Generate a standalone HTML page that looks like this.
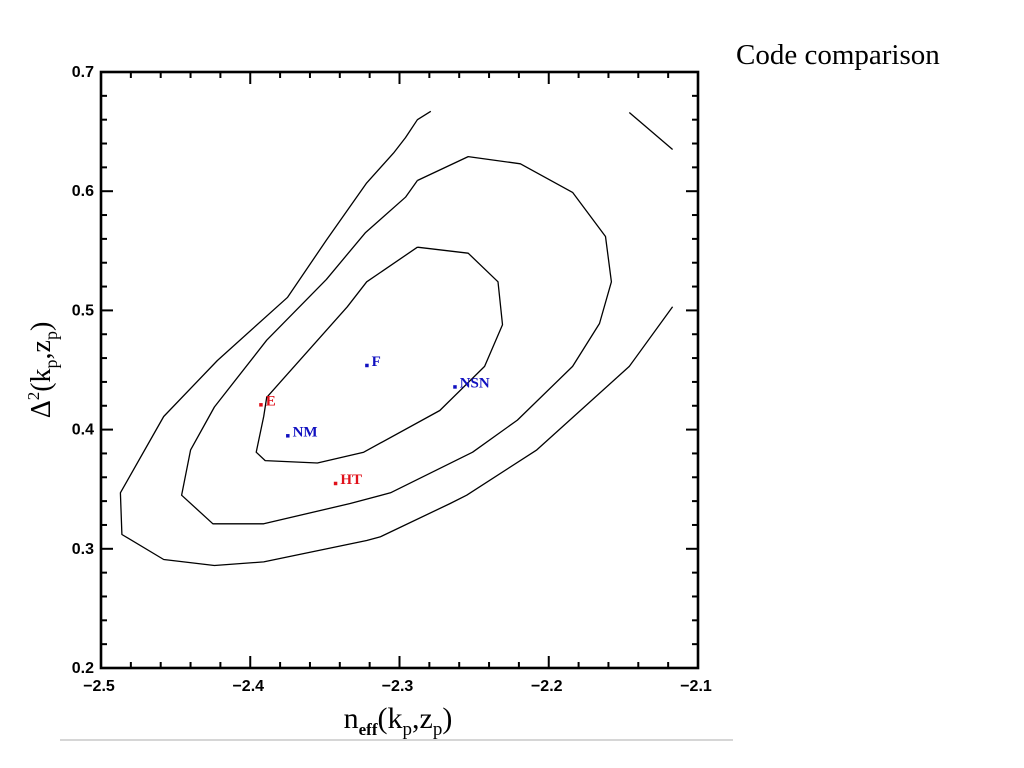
<!DOCTYPE html>
<html><head><meta charset="utf-8"><style>
html,body{margin:0;padding:0;background:#fff;width:1024px;height:768px;overflow:hidden}
svg{display:block}
</style></head><body>
<svg id="chart" width="1024" height="768" viewBox="0 0 1024 768" xmlns="http://www.w3.org/2000/svg">
<text x="736" y="64" font-family="Liberation Serif, serif" font-size="29" fill="#000">Code comparison</text>
<line x1="60" y1="740" x2="733" y2="740" stroke="#c8c8c8" stroke-width="1.5"/>
<g id="plot"></g>
<text x="398" y="728" text-anchor="middle" font-family="Liberation Serif, serif" font-size="30">n<tspan font-size="17" dy="7" font-weight="bold">eff</tspan><tspan dy="-7">(k</tspan><tspan font-size="19" dy="7">p</tspan><tspan dy="-7">,z</tspan><tspan font-size="19" dy="7">p</tspan><tspan dy="-7">)</tspan></text>
<text transform="translate(50,370) rotate(-90)" text-anchor="middle" font-family="Liberation Serif, serif" font-size="28">Δ<tspan font-size="17" dy="-11">2</tspan><tspan dy="11">(k</tspan><tspan font-size="18" dy="7">p</tspan><tspan dy="-7">,z</tspan><tspan font-size="18" dy="7">p</tspan><tspan dy="-7">)</tspan></text>
</svg>
<script>
const xTicks = [-2.5, -2.4, -2.3, -2.2, -2.1];
const xTickLabels = ["\u22122.5", "\u22122.4", "\u22122.3", "\u22122.2", "\u22122.1"];
const yTicks = [0.2, 0.3, 0.4, 0.5, 0.6, 0.7];
const yTickLabels = ["0.2", "0.3", "0.4", "0.5", "0.6", "0.7"];
const outerX = [-2.279,-2.288,-2.296,-2.304,-2.322,-2.349,-2.375,-2.422,-2.458,-2.487,-2.486,-2.458,-2.424,-2.391,-2.322,-2.313,-2.266,-2.255,-2.208,-2.146,-2.117];
const outerY = [0.667,0.660,0.645,0.632,0.607,0.559,0.511,0.458,0.411,0.347,0.312,0.291,0.286,0.289,0.307,0.310,0.338,0.345,0.383,0.453,0.503];
const middleX = [-2.288,-2.254,-2.219,-2.184,-2.162,-2.158,-2.166,-2.184,-2.221,-2.251,-2.306,-2.333,-2.391,-2.425,-2.446,-2.440,-2.424,-2.389,-2.349,-2.323,-2.296,-2.288];
const middleY = [0.609,0.629,0.623,0.599,0.562,0.524,0.489,0.453,0.408,0.381,0.347,0.338,0.321,0.321,0.345,0.383,0.419,0.475,0.526,0.565,0.595,0.609];
const innerX = [-2.288,-2.254,-2.234,-2.231,-2.243,-2.273,-2.324,-2.355,-2.390,-2.396,-2.391,-2.389,-2.335,-2.322,-2.288];
const innerY = [0.553,0.548,0.524,0.488,0.453,0.416,0.381,0.372,0.374,0.381,0.411,0.427,0.503,0.524,0.553];
const cornerX = [-2.146,-2.117];
const cornerY = [0.666,0.635];
const codeNames = ["E","NM","F","HT","NSN"];
const codeX = [-2.393,-2.375,-2.322,-2.343,-2.263];
const codeY = [0.421,0.395,0.454,0.355,0.436];
const codeColors = ["#e0101a","#1010c0","#1010c0","#e0101a","#1010c0"];

const L=101,R=698,T=72,B=668;
const xMin=-2.5,xMax=-2.1,yMin=0.2,yMax=0.7;
function sx(v){return L+(v-xMin)/(xMax-xMin)*(R-L);}
function sy(v){return B-(v-yMin)/(yMax-yMin)*(B-T);}
const NS='http://www.w3.org/2000/svg';
const g=document.getElementById('plot');
function mk(tag,attrs){const e=document.createElementNS(NS,tag);for(const k in attrs)e.setAttribute(k,attrs[k]);g.appendChild(e);return e;}

const frame=mk('rect',{x:L,y:T,width:R-L,height:B-T,fill:'none',stroke:'#000','stroke-width':2.6});



for(let i=0;i<=20;i++){
  const v=xMin+i*0.02;const x=sx(v);const major=i%5===0;const len=major?12:6;
  const t1=mk('line',{x1:x,y1:B,x2:x,y2:B-len,stroke:'#000','stroke-width':2});
  
  
  const t2=mk('line',{x1:x,y1:T,x2:x,y2:T+len,stroke:'#000','stroke-width':2});
  
  
}
for(let i=0;i<=25;i++){
  const v=yMin+i*0.02;const y=sy(v);const major=i%5===0;const len=major?12:6;
  const t1=mk('line',{x1:L,y1:y,x2:L+len,y2:y,stroke:'#000','stroke-width':2});
  
  
  const t2=mk('line',{x1:R,y1:y,x2:R-len,y2:y,stroke:'#000','stroke-width':2});
  
  
}
xTicks.forEach((v,i)=>{
  const t=mk('text',{x:sx(v)-2,y:B+23,'text-anchor':'middle','font-family':'Liberation Sans, sans-serif','font-size':16,'font-weight':'bold'});
  t.textContent=xTickLabels[i];
  
  
});
yTicks.forEach((v,i)=>{
  const t=mk('text',{x:L-7,y:sy(v)+5,'text-anchor':'end','font-family':'Liberation Sans, sans-serif','font-size':16,'font-weight':'bold'});
  t.textContent=yTickLabels[i];
  
  
});

function poly(xs,ys,name){
  const pts=xs.map((v,i)=>sx(v).toFixed(1)+','+sy(ys[i]).toFixed(1)).join(' ');
  const p=mk('polyline',{points:pts,fill:'none',stroke:'#000','stroke-width':1.3,'stroke-linejoin':'round'});
  
  
}
poly(outerX,outerY,'contour-outer');
poly(middleX,middleY,'contour-middle');
poly(innerX,innerY,'contour-inner');
poly(cornerX,cornerY,'contour-corner');

codeNames.forEach((n,i)=>{
  const x=sx(codeX[i]),y=sy(codeY[i]);
  const d=mk('rect',{x:x-1.5,y:y-1.5,width:3.5,height:3.5,fill:codeColors[i]});
  
  
  const t=mk('text',{x:x+5,y:y+1,'font-family':'Liberation Serif, serif','font-size':15,'font-weight':'bold',fill:codeColors[i]});
  t.textContent=n;
  
  
});
</script>
</body></html>
